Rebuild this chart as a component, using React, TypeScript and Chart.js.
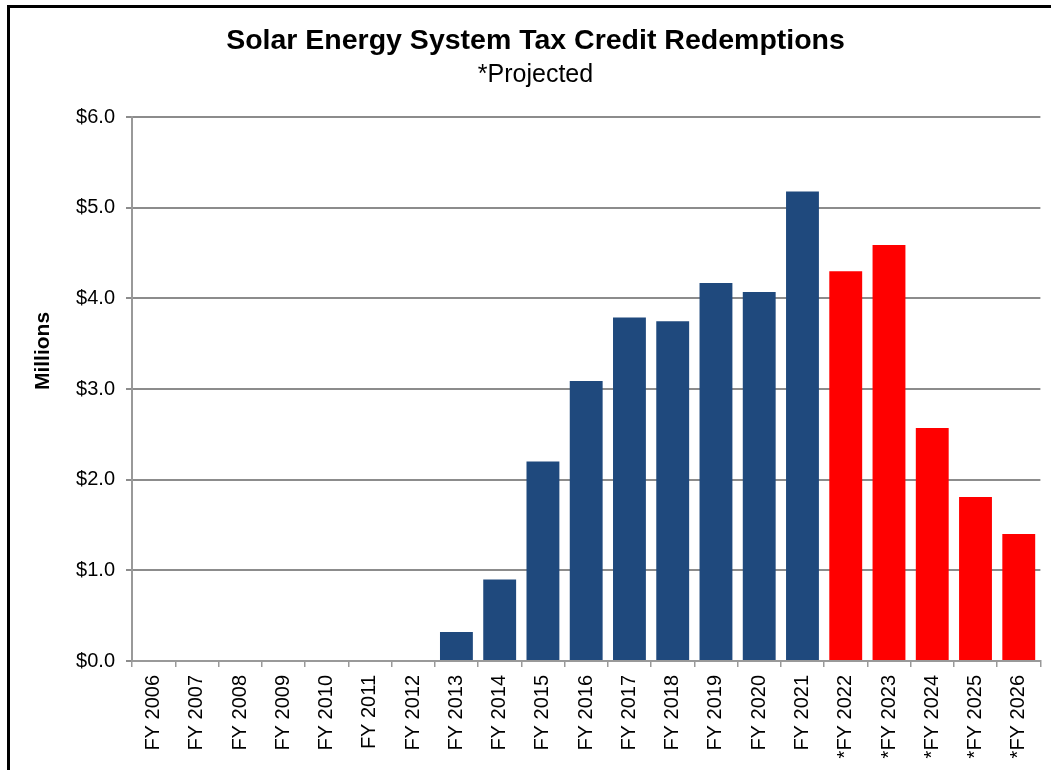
import React, { useEffect, useRef } from "react";
import { Chart, registerables } from "chart.js";

Chart.register(...registerables);

const actualYears = ["FY 2006", "FY 2007", "FY 2008", "FY 2009", "FY 2010", "FY 2011", "FY 2012", "FY 2013", "FY 2014", "FY 2015", "FY 2016", "FY 2017", "FY 2018", "FY 2019", "FY 2020", "FY 2021"];
const actualValues = [0, 0, 0, 0, 0, 0, 0, 0.32, 0.9, 2.2, 3.09, 3.79, 3.75, 4.17, 4.07, 5.18];
const projectedYears = ["*FY 2022", "*FY 2023", "*FY 2024", "*FY 2025", "*FY 2026"];
const projectedValues = [4.3, 4.59, 2.57, 1.81, 1.4];
const yTicks = [0, 1, 2, 3, 4, 5, 6];

const TITLE = "Solar Energy System Tax Credit Redemptions";
const SUBTITLE = "*Projected";
const Y_TITLE = "Millions";

const ACTUAL_COLOR = "#1F497D";
const PROJECTED_COLOR = "#FF0000";
const FONT = "'Liberation Sans', Arial, sans-serif";

export default function App() {
  const ref = useRef<HTMLCanvasElement | null>(null);

  useEffect(() => {
    if (!ref.current) return;
    const labels = [...actualYears, ...projectedYears];
    const values = [...actualValues, ...projectedValues];
    const colors = [
      ...actualYears.map(() => ACTUAL_COLOR),
      ...projectedYears.map(() => PROJECTED_COLOR),
    ];

    const yTitlePlugin = {
      id: "yTitle",
      afterDraw(chart: any) {
        const ctx = chart.ctx;
        ctx.save();
        ctx.translate(43, 351);
        ctx.rotate(-Math.PI / 2);
        ctx.font = `bold 21px ${FONT}`;
        ctx.fillStyle = "#000";
        ctx.textAlign = "center";
        ctx.textBaseline = "middle";
        ctx.fillText(Y_TITLE, 0, 0);
        ctx.restore();
      },
    };

    const chart = new Chart(ref.current, {
      type: "bar",
      data: {
        labels,
        datasets: [
          {
            label: "Redemptions",
            data: values,
            backgroundColor: colors,
            borderWidth: 0,
            barPercentage: 0.76,
            categoryPercentage: 1,
          },
        ],
      },
      plugins: [yTitlePlugin],
      options: {
        animation: false,
        responsive: false,
        maintainAspectRatio: false,
        layout: { padding: { left: 30, right: 10, top: 0, bottom: 0 } },
        plugins: {
          legend: { display: false },
          tooltip: { enabled: false },
          title: {
            display: true,
            text: TITLE,
            color: "#000",
            font: { family: FONT, size: 28.5, weight: "bold", lineHeight: 1.2 },
            padding: { top: 24, bottom: 0 },
          },
          subtitle: {
            display: true,
            text: SUBTITLE,
            color: "#000",
            font: { family: FONT, size: 25, weight: "normal", lineHeight: 1.2 },
            padding: { top: 2, bottom: 27 },
          },
        },
        scales: {
          x: {
            offset: true,
            grid: {
              offset: true,
              drawOnChartArea: false,
              drawTicks: true,
              tickLength: 6,
              color: "#999",
              lineWidth: 1.5,
            },
            border: { display: true, color: "#999", width: 2 },
            ticks: {
              color: "#000",
              font: { family: FONT, size: 20 },
              minRotation: 90,
              maxRotation: 90,
              autoSkip: false,
              padding: 8,
            },
            afterFit(scale: any) {
              scale.height = 109;
            },
          },
          y: {
            min: 0,
            max: 6,
            afterBuildTicks(scale: any) {
              scale.ticks = yTicks.map((v) => ({ value: v }));
            },
            grid: {
              color: "#8c8c8c",
              lineWidth: 2,
              drawTicks: true,
              tickLength: 6,
            },
            border: { display: true, color: "#999", width: 2 },
            ticks: {
              color: "#000",
              font: { family: FONT, size: 20 },
              padding: 11,
              callback: (v: any) => "$" + Number(v).toFixed(1),
            },
            afterFit(scale: any) {
              scale.width = 102;
            },
          },
        },
      },
    });
    return () => chart.destroy();
  }, []);

  return (
    <div style={{ position: "fixed", left: 0, top: 0, width: 1051, height: 770, background: "#fff" }}>
      <canvas ref={ref} width={1051} height={770} style={{ position: "absolute", left: 0, top: 0, width: 1051, height: 770 }} />
      <div
        style={{
          position: "absolute",
          left: 7,
          top: 5,
          width: 1044,
          height: 765,
          borderTop: "3px solid #000",
          borderLeft: "3px solid #000",
          boxSizing: "border-box",
          pointerEvents: "none",
        }}
      />
    </div>
  );
}
